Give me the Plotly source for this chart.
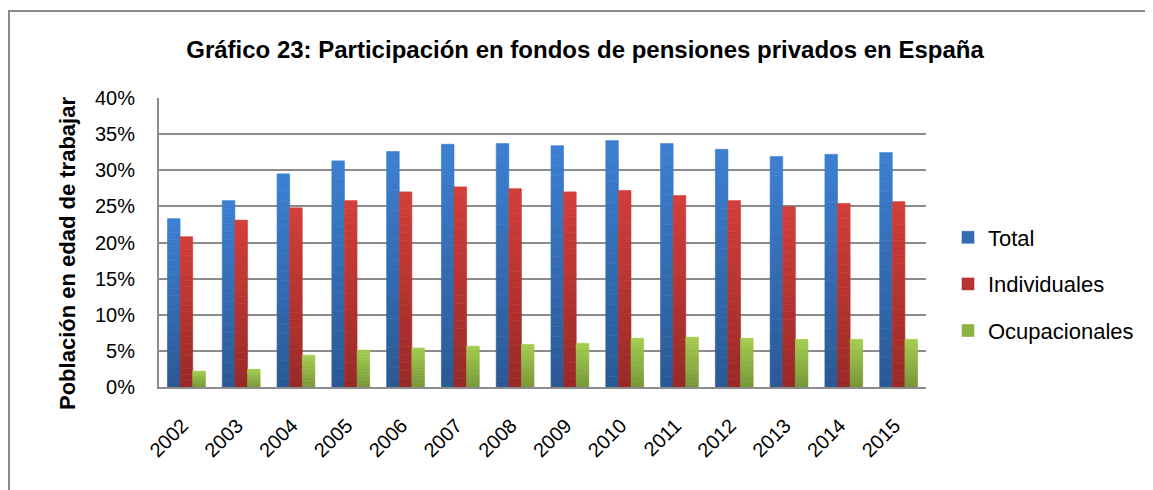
import plotly.graph_objects as go

years = [str(y) for y in range(2002, 2016)]
total = [23.3, 25.8, 29.5, 31.3, 32.6, 33.6, 33.7, 33.4, 34.1, 33.7, 32.9, 31.9, 32.2, 32.45]
individuales = [20.8, 23.1, 24.8, 25.8, 27.0, 27.7, 27.45, 27.0, 27.2, 26.5, 25.8, 24.95, 25.4, 25.65]
ocupacionales = [2.2, 2.45, 4.4, 5.1, 5.4, 5.65, 5.9, 6.05, 6.75, 6.9, 6.75, 6.6, 6.6, 6.6]

series = [
    ("Total", total, (60, 128, 210), (43, 88, 148)),
    ("Individuales", individuales, (211, 62, 57), (152, 41, 39)),
    ("Ocupacionales", ocupacionales, (164, 204, 78), (117, 150, 55)),
]

FONT = "Liberation Sans Narrow, Arial Narrow, Liberation Sans, Arial, sans-serif"
K = 24

# page is offset by the 8px body margin; layout numbers are in figure px
L, R, T, B = 151, 918, 90, 379
PW, PH = R - L, B - T

fig = go.Figure()
for name, vals, top, bot in series:
    for i in range(K):
        t = (i + 0.5) / K
        c = tuple(round(bot[j] + (top[j] - bot[j]) * t) for j in range(3))
        col = "rgb(%d,%d,%d)" % c
        fig.add_trace(go.Bar(
            x=years,
            y=[v / 100 / K for v in vals],
            base=[v / 100 * i / K for v in vals],
            offsetgroup=name,
            name=name,
            legendgroup=name,
            showlegend=(i == K // 2),
            marker=dict(color=col, line=dict(width=0.6, color=col)),
            hoverinfo="skip",
        ))

fig.update_layout(
    width=1153, height=490,
    paper_bgcolor="white", plot_bgcolor="white",
    barmode="group", bargap=0.31, bargroupgap=0,
    margin=dict(l=L, r=1153 - R, t=T, b=490 - B),
    font=dict(family=FONT, size=20, color="black"),
    title=dict(
        text="<b>Gráfico 23: Participación en fondos de pensiones privados en España</b>",
        x=577 / 1153, xref="container", xanchor="center",
        y=1 - 42 / 490, yref="container", yanchor="middle",
        font=dict(family=FONT, size=24, color="black"),
    ),
    legend=dict(
        x=(940 - L) / PW, xanchor="left", y=(B - 276) / PH, yanchor="middle",
        font=dict(family=FONT, size=22, color="black"),
        tracegroupgap=15, itemwidth=30,
    ),
    showlegend=True,
)
fig.update_xaxes(
    type="category", tickangle=-45, showgrid=False,
    showline=True, linecolor="#8c8c8c", linewidth=2,
    ticks="", tickfont=dict(family=FONT, size=20),
    ticklabelstandoff=17, ticklabelshift=-4,
)
fig.update_yaxes(
    range=[0, 0.40], dtick=0.05, tickformat=".0%",
    showgrid=True, gridcolor="#8c8c8c", gridwidth=2,
    showline=True, linecolor="#8c8c8c", linewidth=2,
    zeroline=False, ticks="", tickfont=dict(family=FONT, size=20),
    ticklabelstandoff=18,
)
fig.add_annotation(
    text="<b>Población en edad de trabajar</b>", textangle=-90,
    xref="paper", yref="paper", x=(59 - L) / PW, y=(B - 246) / PH,
    xanchor="center", yanchor="middle", showarrow=False,
    font=dict(family=FONT, size=22, color="black"),
)
fig.add_shape(
    type="rect", xref="paper", yref="paper",
    x0=(1 - L) / PW, x1=1.5, y0=-0.6, y1=(B - 3) / PH,
    line=dict(color="#8c8c8c", width=2), layer="below",
)
fig.write_html("out.html")
